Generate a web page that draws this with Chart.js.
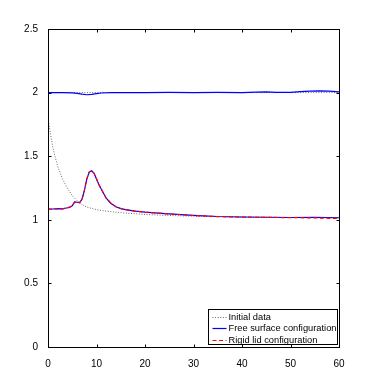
<!DOCTYPE html>
<html>
<head>
<meta charset="utf-8">
<script src="https://cdn.jsdelivr.net/npm/chart.js@4.4.0/dist/chart.umd.min.js"></script>
<style>
  html, body { margin: 0; padding: 0; background: #fff; }
  canvas { display: block; }
</style>
</head>
<body>
<canvas id="c" width="374" height="390"></canvas>
<script>
// ---- data ----
const xTickLabels = ["0", "10", "20", "30", "40", "50", "60"];
const yTickLabels = ["0", "0.5", "1", "1.5", "2", "2.5"];
const legendLabels = ["Initial data", "Free surface configuration", "Rigid lid configuration"];

// lower curves (time axis)
const tLower = [0, 1, 2, 3, 4, 4.5, 5, 5.5, 6, 6.5, 7, 7.5, 8, 8.5, 9, 9.5, 10, 10.5, 11, 12, 13, 14, 15, 16, 18, 20, 22, 25, 30, 35, 40, 45, 50, 55, 60];
const freeLower = [1.085, 1.085, 1.088, 1.086, 1.095, 1.100, 1.110, 1.140, 1.138, 1.135, 1.160, 1.230, 1.320, 1.375, 1.385, 1.365, 1.320, 1.275, 1.240, 1.170, 1.128, 1.102, 1.088, 1.080, 1.068, 1.060, 1.055, 1.046, 1.035, 1.026, 1.022, 1.020, 1.018, 1.020, 1.016];
const rigidLower = [1.083, 1.084, 1.087, 1.086, 1.094, 1.100, 1.112, 1.140, 1.137, 1.134, 1.160, 1.232, 1.322, 1.377, 1.386, 1.366, 1.322, 1.277, 1.240, 1.171, 1.129, 1.103, 1.089, 1.080, 1.068, 1.060, 1.054, 1.045, 1.034, 1.025, 1.021, 1.019, 1.017, 1.015, 1.010];

const tInit = [0, 0.5, 1, 1.5, 2, 3, 4, 5, 6, 7, 8, 10, 12, 14, 17, 20, 25, 30, 40, 50, 60];
const initLower = [1.80, 1.68, 1.57, 1.49, 1.42, 1.32, 1.25, 1.19, 1.15, 1.12, 1.10, 1.08, 1.068, 1.060, 1.050, 1.042, 1.034, 1.028, 1.022, 1.018, 1.015];

// upper curves
const tUpper = [0, 3, 5, 6, 7, 8, 9, 10, 11, 13, 15, 20, 25, 30, 35, 40, 43, 45, 47, 50, 52, 54, 56, 58, 60];
const freeUpper = [2.000, 2.000, 1.998, 1.994, 1.988, 1.983, 1.986, 1.992, 1.997, 2.000, 2.000, 2.000, 2.001, 2.000, 2.001, 2.000, 2.004, 2.006, 2.002, 2.002, 2.008, 2.012, 2.014, 2.012, 2.006];
const tInitUpper = [0, 60];
const initUpper = [2.0, 2.0];

const toPts = (xs, ys) => xs.map((x, i) => ({ x: x, y: ys[i] }));
const FONT = "'Liberation Sans', Arial, Helvetica, sans-serif";

const styles = {
  init: { color: 'rgba(70,70,70,0.8)', dash: [1, 1.6], width: 1 },
  free: { color: '#0000ff', dash: [], width: 1.2 },
  rigid: { color: '#ff0000', dash: [4, 2.5], width: 1.2 }
};

const decorPlugin = {
  id: 'decor',
  afterDatasetsDraw(chart) {
    const ctx = chart.ctx;
    const a = chart.chartArea;
    const xs = chart.scales.x, ys = chart.scales.y;
    ctx.save();
    ctx.strokeStyle = '#000';
    ctx.lineWidth = 1;
    ctx.setLineDash([]);
    // box
    const L = Math.round(a.left) + 0.5, R = Math.round(a.right) + 0.5;
    const T = Math.round(a.top) + 0.5, B = Math.round(a.bottom) + 0.5;
    ctx.strokeRect(L, T, R - L, B - T);
    // inward ticks
    const tl = 3;
    ctx.beginPath();
    xTickLabels.forEach(lbl => {
      const px = Math.round(xs.getPixelForValue(parseFloat(lbl))) + 0.5;
      ctx.moveTo(px, B); ctx.lineTo(px, B - tl);
      ctx.moveTo(px, T); ctx.lineTo(px, T + tl);
    });
    yTickLabels.forEach(lbl => {
      const py = Math.round(ys.getPixelForValue(parseFloat(lbl))) + 0.5;
      ctx.moveTo(L, py); ctx.lineTo(L + tl, py);
      ctx.moveTo(R, py); ctx.lineTo(R - tl, py);
    });
    ctx.stroke();

    // legend box (bottom right, inside axes)
    const bw = 129, bh = 35;
    const bx = Math.round(a.right) - 1.5 - bw, by = Math.round(a.bottom) - 2.5 - bh;
    ctx.fillStyle = '#fff';
    ctx.fillRect(bx, by, bw, bh);
    ctx.strokeStyle = '#000';
    ctx.lineWidth = 1;
    ctx.strokeRect(bx, by, bw, bh);
    const keys = ['init', 'free', 'rigid'];
    ctx.font = '9.3px ' + FONT;
    ctx.textBaseline = 'middle';
    ctx.textAlign = 'left';
    keys.forEach((k, i) => {
      const cy = Math.round(by + 7 + i * 11.5) + 0.5;
      const st = styles[k];
      ctx.strokeStyle = st.color;
      ctx.lineWidth = st.width;
      ctx.setLineDash(st.dash);
      ctx.beginPath();
      ctx.moveTo(bx + 4, cy);
      ctx.lineTo(bx + 18, cy);
      ctx.stroke();
      ctx.setLineDash([]);
      ctx.fillStyle = '#000';
      ctx.fillText(legendLabels[i], bx + 20, cy);
    });
    ctx.restore();
  }
};

const ds = (label, pts, st, order) => ({
  label: label,
  data: pts,
  borderColor: st.color,
  borderWidth: st.width,
  borderDash: st.dash,
  pointRadius: 0,
  tension: 0,
  fill: false,
  order: order
});

new Chart(document.getElementById('c').getContext('2d'), {
  type: 'line',
  data: {
    datasets: [
      ds(legendLabels[0], toPts(tInit, initLower), styles.init, 4),
      ds(legendLabels[0] + ' (upper)', toPts(tInitUpper, initUpper), styles.init, 5),
      ds(legendLabels[1], toPts(tLower, freeLower), styles.free, 2),
      ds(legendLabels[1] + ' (upper)', toPts(tUpper, freeUpper), styles.free, 3),
      ds(legendLabels[2], toPts(tLower, rigidLower), styles.rigid, 1)
    ]
  },
  options: {
    responsive: false,
    animation: false,
    layout: { padding: { top: 29, right: 35, left: 0, bottom: 0 } },
    plugins: { legend: { display: false }, tooltip: { enabled: false } },
    scales: {
      x: {
        type: 'linear', min: 0, max: 60,
        afterBuildTicks(s) { s.ticks = xTickLabels.map(v => ({ value: parseFloat(v) })); },
        ticks: {
          callback: (v) => xTickLabels[xTickLabels.map(parseFloat).indexOf(v)],
          color: '#000', font: { size: 10, family: FONT }, padding: 3, maxRotation: 0, autoSkip: false
        },
        grid: { display: false },
        border: { display: false },
        afterFit(s) { s.height = 43; }
      },
      y: {
        type: 'linear', min: 0, max: 2.5,
        afterBuildTicks(s) { s.ticks = yTickLabels.map(v => ({ value: parseFloat(v) })); },
        ticks: {
          callback: (v) => yTickLabels[yTickLabels.map(parseFloat).indexOf(v)],
          color: '#000', font: { size: 10, family: FONT }, padding: 2, autoSkip: false
        },
        grid: { display: false },
        border: { display: false },
        afterFit(s) { s.width = 48; }
      }
    }
  },
  plugins: [decorPlugin]
});
</script>
</body>
</html>
